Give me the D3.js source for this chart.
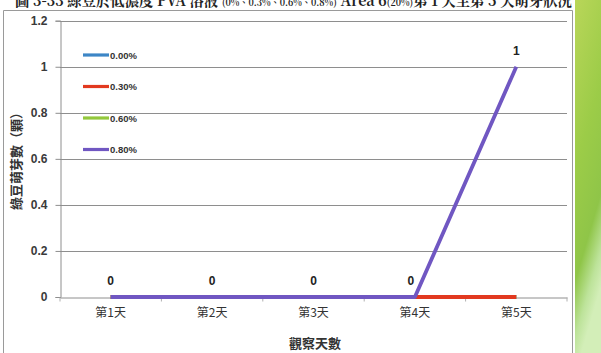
<!DOCTYPE html>
<html>
<head>
<meta charset="utf-8">
<script src="https://cdn.jsdelivr.net/npm/d3@7/dist/d3.min.js"></script>
<style>
  html, body { margin: 0; padding: 0; background: #fff; }
  svg { display: block; }
</style>
</head>
<body>
<svg id="chart" width="601" height="353"></svg>
<script>
// Observation days and germination counts per PVA concentration
const days = ["第1天", "第2天", "第3天", "第4天", "第5天"];
const seriesNames = ["0.00%", "0.30%", "0.60%", "0.80%"];
const seriesColors = ["#3d86c6", "#e2391f", "#93c83c", "#7057c2"];
const vals000 = [0, 0, 0, 0, 0];
const vals030 = [0, 0, 0, 0, 0];
const vals060 = [0, 0, 0, 0, 0];
const vals080 = [0, 0, 0, 0, 1];
const yTicks = [0, 0.2, 0.4, 0.6, 0.8, 1, 1.2];
const yTickLabels = ["0", "0.2", "0.4", "0.6", "0.8", "1", "1.2"];
const captionParts = [
  { t: "圖 3-33 綠豆於低濃度 PVA 溶液 ", small: false },
  { t: "(0%、0.3%、0.6%、0.8%)", small: true },
  { t: " Area 6", small: false },
  { t: "(20%)", small: true },
  { t: "第 1 天至第 5 天萌芽狀況", small: false }
];

const series = [
  { name: seriesNames[0], color: seriesColors[0], values: vals000 },
  { name: seriesNames[1], color: seriesColors[1], values: vals030 },
  { name: seriesNames[2], color: seriesColors[2], values: vals060 },
  { name: seriesNames[3], color: seriesColors[3], values: vals080 }
];
// paint order: later series sit on top
const drawOrder = [0, 2, 1, 3];

const svg = d3.select("#chart");
const W = 601, H = 353;
const plot = { left: 60, right: 567, top: 20.7, bottom: 297 };

// slide background strip on the right
const defs = svg.append("defs");
const g1 = defs.append("linearGradient").attr("id", "slideBg")
  .attr("x1", "0").attr("y1", "0").attr("x2", "0.25").attr("y2", "1");
g1.append("stop").attr("offset", "0").attr("stop-color", "#b9d659");
g1.append("stop").attr("offset", "0.45").attr("stop-color", "#9ccc48");
g1.append("stop").attr("offset", "0.75").attr("stop-color", "#8fc548");
g1.append("stop").attr("offset", "0.9").attr("stop-color", "#bde39a");
g1.append("stop").attr("offset", "1").attr("stop-color", "#d3eeb8");
svg.append("rect").attr("x", 575).attr("y", 0).attr("width", W - 575).attr("height", H)
  .attr("fill", "url(#slideBg)");

// chart frame
svg.append("path")
  .attr("d", `M3.5,${H} V10.5 H572.5 V${H}`)
  .attr("fill", "none").attr("stroke", "#9a9a9a").attr("stroke-width", 1);

// caption line (runs off the top edge); pieces laid out one after another
const capG = svg.append("g");
let cxPos = 15;
captionParts.forEach(p => {
  const el = capG.append("text")
    .attr("x", cxPos).attr("y", 6)
    .style("white-space", "pre")
    .attr("font-family", "'Noto Serif CJK TC','Noto Sans CJK TC', serif")
    .attr("font-size", p.small ? 10 : 16).attr("font-weight", "bold").attr("fill", "#222")
    .text(p.t);
  cxPos += el.node().getComputedTextLength();
});
// fit the whole line between the frame edges
const capScale = (572 - 15) / (cxPos - 15);
capG.attr("transform", `translate(15,0) scale(${capScale},1) translate(-15,0)`);

// scales
const x = d3.scaleBand().domain(days).range([plot.left, plot.right]);
const y = d3.scaleLinear().domain([0, 1.2]).range([plot.bottom, plot.top]);
const cx = d => x(d) + x.bandwidth() / 2;

// horizontal gridlines
svg.append("g").selectAll("line").data(yTicks.filter(t => t > 0)).join("line")
  .attr("x1", plot.left).attr("x2", plot.right)
  .attr("y1", d => Math.round(y(d)) + 0.5).attr("y2", d => Math.round(y(d)) + 0.5)
  .attr("stroke", "#8e8e8e").attr("stroke-width", 1);

// y axis
const yAxis = d3.axisLeft(y).tickValues(yTicks)
  .tickFormat((d, i) => yTickLabels[i]).tickSize(5).tickPadding(8);
const yg = svg.append("g").attr("transform", `translate(${plot.left + 0.5},0)`).call(yAxis);
yg.select(".domain").attr("stroke", "#8e8e8e");
yg.selectAll(".tick line").attr("stroke", "#8e8e8e");
yg.selectAll(".tick text")
  .attr("font-family", "'Liberation Sans', Arial, sans-serif")
  .attr("font-size", 12).attr("font-weight", "bold").attr("fill", "#3a3a3a");

// x axis
const xAxis = d3.axisBottom(x).tickSize(0).tickPadding(11);
const xg = svg.append("g").attr("transform", `translate(0,${Math.round(plot.bottom) + 0.5})`).call(xAxis);
xg.select(".domain").attr("stroke", "#8e8e8e");
xg.selectAll(".tick text")
  .attr("font-family", "'Noto Sans CJK TC', sans-serif")
  .attr("font-size", 12).attr("fill", "#333");
// small ticks at category boundaries
xg.append("g").selectAll("line").data(days.concat(["end"])).join("line")
  .attr("x1", (d, i) => plot.left + i * x.bandwidth())
  .attr("x2", (d, i) => plot.left + i * x.bandwidth())
  .attr("y1", 0).attr("y2", 4).attr("stroke", "#b0b0b0");

// series lines
const line = d3.line().x((v, i) => cx(days[i])).y(v => y(v));
drawOrder.forEach(k => {
  svg.append("path").datum(series[k].values)
    .attr("d", line).attr("fill", "none")
    .attr("stroke", series[k].color).attr("stroke-width", 3.8)
    .attr("stroke-linejoin", "round").attr("stroke-linecap", "butt");
});

// data labels for the 0.80% series
const labelled = series[3];
svg.append("g").selectAll("text").data(labelled.values).join("text")
  .attr("x", (v, i) => cx(days[i]) + (i === 3 ? -4 : 0))
  .attr("y", v => y(v) - 12)
  .attr("text-anchor", "middle")
  .attr("font-family", "'Liberation Sans', Arial, sans-serif")
  .attr("font-size", 12).attr("font-weight", "bold").attr("fill", "#222")
  .text(v => d3.format("d")(v));

// legend
const lg = svg.append("g");
series.forEach((s, i) => {
  const ly = 55 + i * 31.5;
  lg.append("line").attr("x1", 83).attr("x2", 109).attr("y1", ly).attr("y2", ly)
    .attr("stroke", s.color).attr("stroke-width", 3.2);
  lg.append("text").attr("x", 110).attr("y", ly + 3.5)
    .attr("font-family", "'Liberation Sans', Arial, sans-serif")
    .attr("font-size", 9.5).attr("font-weight", "bold").attr("fill", "#333")
    .text(s.name);
});

// axis titles
svg.append("text")
  .attr("transform", "translate(21,158) rotate(-90)")
  .attr("text-anchor", "middle")
  .attr("font-family", "'Noto Sans CJK TC', sans-serif")
  .attr("font-size", 13).attr("font-weight", "bold").attr("fill", "#333")
  .text("綠豆萌芽數（顆）");
svg.append("text")
  .attr("x", 315).attr("y", 348)
  .attr("text-anchor", "middle")
  .attr("font-family", "'Noto Sans CJK TC', sans-serif")
  .attr("font-size", 13).attr("font-weight", "bold").attr("fill", "#333")
  .text("觀察天數");
</script>
</body>
</html>
